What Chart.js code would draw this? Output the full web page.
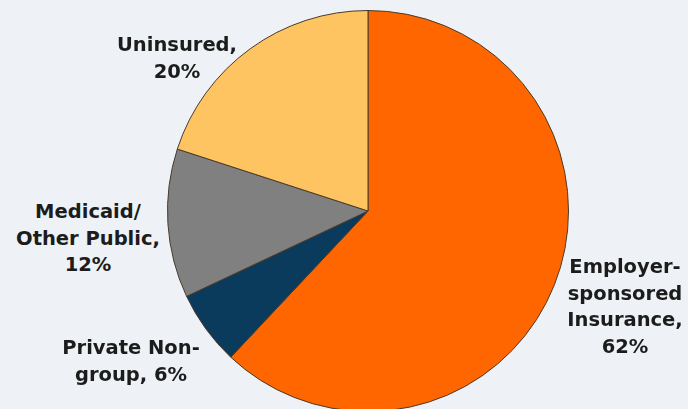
<!DOCTYPE html>
<html>
<head>
<meta charset="utf-8">
<script src="https://cdn.jsdelivr.net/npm/chart.js@4"></script>
<style>
  html, body { margin: 0; padding: 0; }
  body {
    width: 688px; height: 409px; overflow: hidden; position: relative;
    background: #eef1f5;
    font-family: "DejaVu Sans", Verdana, sans-serif;
  }
  #wrap { position: absolute; left: 167px; top: 10px; width: 402px; height: 402px; }
  .lbl {
    position: absolute; text-align: center; font-weight: bold;
    font-size: 19.5px; line-height: 26.5px; color: #1c1c1c;
    transform: translate(-50%, -13px); white-space: nowrap;
  }
</style>
</head>
<body>
<div id="wrap"><canvas id="pie"></canvas></div>
<div id="labels"></div>
<script>
// Coverage shares (%)
const categories = ['Employer-\nsponsored\nInsurance', 'Private Non-\ngroup', 'Medicaid/\nOther Public', 'Uninsured'];
const shares     = [62, 6, 12, 20];
const colors     = ['#ff6600', '#0a3a5c', '#808080', '#ffc462'];
// label text layout: line breaks before the value
const labelText  = ['Employer-<br>sponsored<br>Insurance,<br>62%', 'Private Non-<br>group, 6%', 'Medicaid/<br>Other Public,<br>12%', 'Uninsured,<br>20%'];
const labelPos   = [[625, 267], [131, 348], [88, 212], [177, 45]];

new Chart(document.getElementById('pie'), {
  type: 'pie',
  data: {
    labels: categories,
    datasets: [{
      data: shares,
      backgroundColor: colors,
      borderColor: '#4a3a2a',
      borderWidth: 1
    }]
  },
  options: {
    responsive: true,
    maintainAspectRatio: false,
    animation: false,
    plugins: { legend: { display: false }, tooltip: { enabled: false } }
  }
});

document.getElementById('labels').innerHTML = labelText.map((t, i) =>
  `<div class="lbl" style="left:${labelPos[i][0]}px;top:${labelPos[i][1]}px">${t}</div>`
).join('');
</script>
</body>
</html>
